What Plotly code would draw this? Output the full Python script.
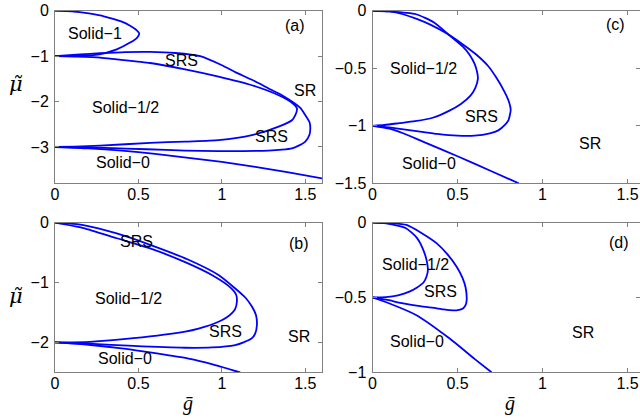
import plotly.graph_objects as go

# ---------------- data ----------------
# panel (a)
a_s1_g = [0, 0.10, 0.17, 0.27, 0.33, 0.40, 0.45, 0.49, 0.505, 0.49, 0.45, 0.37, 0.30, 0.23, 0.12, 0]
a_s1_mu = [0, -0.01, -0.04, -0.10, -0.16, -0.24, -0.33, -0.43, -0.50, -0.60, -0.70, -0.85, -0.93, -0.975, -0.995, -1]
a_out_g = [0, 0.15, 0.27, 0.42, 0.57, 0.72, 0.87, 1.0, 1.08, 1.18, 1.28, 1.36, 1.42, 1.47, 1.50, 1.525,
           1.53, 1.525, 1.50, 1.46, 1.42, 1.36, 1.28, 1.13, 0.98, 0.78, 0.55, 0.30, 0.12, 0]
a_out_mu = [-1, -0.96, -0.935, -0.91, -0.905, -0.93, -1.0, -1.2, -1.35, -1.52, -1.71, -1.86, -2.0, -2.14, -2.30, -2.45,
            -2.59, -2.73, -2.88, -2.97, -3.03, -3.06, -3.08, -3.09, -3.09, -3.08, -3.05, -3.02, -3.005, -3]
a_in_g = [0, 0.12, 0.27, 0.37, 0.57, 0.78, 0.98, 1.18, 1.34, 1.41, 1.45, 1.44, 1.42, 1.34, 1.18, 0.98, 0.78, 0.57, 0.27, 0.12, 0]
a_in_mu = [-1, -1.01, -1.03, -1.07, -1.15, -1.29, -1.45, -1.64, -1.86, -2.0, -2.15, -2.30, -2.41, -2.55, -2.74, -2.85,
           -2.88, -2.91, -2.97, -2.99, -3]
a_s0_g = [0, 0.2, 0.4, 0.6, 0.8, 1.0, 1.2, 1.4, 1.6]
a_s0_mu = [-3, -3.03, -3.08, -3.15, -3.24, -3.33, -3.44, -3.56, -3.69]

# panel (b)
b_out_g = [0, 0.08, 0.17, 0.37, 0.57, 0.80, 0.98, 1.08, 1.14, 1.18, 1.205, 1.21, 1.20, 1.18, 1.13, 1.08, 0.94, 0.78, 0.47, 0.2, 0]
b_out_mu = [0, -0.01, -0.04, -0.18, -0.37, -0.62, -0.875, -1.10, -1.25, -1.40, -1.55, -1.71, -1.85, -1.93, -2.0, -2.045,
            -2.085, -2.09, -2.06, -2.02, -2]
b_in_g = [0, 0.17, 0.37, 0.57, 0.78, 0.95, 1.05, 1.085, 1.09, 1.078, 1.03, 0.98, 0.86, 0.78, 0.47, 0.21, 0]
b_in_mu = [0, -0.09, -0.26, -0.43, -0.66, -0.89, -1.08, -1.2, -1.32, -1.45, -1.58, -1.655, -1.77, -1.82, -1.93, -1.99, -2]
b_s0_g = [0, 0.2, 0.4, 0.6, 0.8, 0.95, 1.11]
b_s0_mu = [-2, -2.04, -2.1, -2.18, -2.27, -2.37, -2.5]

# panel (c)
c_out_g = [0, 0.10, 0.18, 0.26, 0.34, 0.44, 0.53, 0.61, 0.68, 0.73, 0.775, 0.80, 0.813, 0.80, 0.78, 0.74, 0.69,
           0.60, 0.50, 0.38, 0.28, 0.15, 0.06, 0]
c_out_mu = [0, -0.005, -0.03, -0.07, -0.12, -0.20, -0.29, -0.38, -0.48, -0.585, -0.70, -0.78, -0.86, -0.95, -0.99,
            -1.04, -1.065, -1.085, -1.085, -1.07, -1.05, -1.025, -1.007, -1]
c_in_g = [0, 0.10, 0.256, 0.36, 0.45, 0.53, 0.57, 0.60, 0.615, 0.62, 0.605, 0.575, 0.52, 0.45, 0.354, 0.25, 0.158, 0.07, 0]
c_in_mu = [0, -0.005, -0.03, -0.10, -0.21, -0.31, -0.38, -0.46, -0.53, -0.59, -0.67, -0.74, -0.81, -0.87, -0.93,
           -0.96, -0.977, -0.993, -1]
c_s0_g = [0, 0.1, 0.18, 0.3, 0.5, 0.7, 0.86]
c_s0_mu = [-1, -1.025, -1.065, -1.14, -1.265, -1.395, -1.5]

# panel (d)
d_out_g = [0, 0.10, 0.20, 0.29, 0.378, 0.44, 0.495, 0.53, 0.547, 0.554, 0.548, 0.534, 0.51, 0.475, 0.42, 0.378,
           0.28, 0.18, 0.08, 0]
d_out_mu = [0, -0.004, -0.015, -0.07, -0.138, -0.21, -0.294, -0.37, -0.43, -0.517, -0.55, -0.572, -0.582, -0.586,
            -0.58, -0.572, -0.558, -0.539, -0.515, -0.5]
d_in_g = [0, 0.08, 0.197, 0.26, 0.295, 0.318, 0.326, 0.318, 0.30, 0.26, 0.217, 0.15, 0.079, 0]
d_in_mu = [0, -0.005, -0.037, -0.10, -0.171, -0.25, -0.315, -0.36, -0.40, -0.435, -0.461, -0.485, -0.497, -0.5]
d_s0_g = [0, 0.1, 0.256, 0.452, 0.6, 0.70]
d_s0_mu = [-0.5, -0.54, -0.617, -0.773, -0.91, -1.0]

x_ticks = [0, 0.5, 1, 1.5]
x_tick_text = ["0", "0.5", "1", "1.5"]
a_y_ticks = [0, -1, -2, -3]
b_y_ticks = [0, -1, -2]
c_y_ticks = [0, -0.5, -1, -1.5]
d_y_ticks = [0, -0.5, -1]

# region labels: (text, g, mu)
a_labels = [("Solid\u22121", 0.24, -0.49), ("SRS", 0.76, -1.09), ("SR", 1.50, -1.75),
            ("Solid\u22121/2", 0.42, -2.12), ("SRS", 1.30, -2.76), ("Solid\u22120", 0.41, -3.35), ("(a)", 1.44, -0.32)]
b_labels = [("SRS", 0.49, -0.32), ("Solid\u22121/2", 0.44, -1.26), ("SRS", 1.02, -1.82), ("SR", 1.46, -1.91),
            ("Solid\u22120", 0.42, -2.27), ("(b)", 1.46, -0.34)]
c_labels = [("Solid\u22121/2", 0.30, -0.50), ("SRS", 0.64, -0.92), ("SR", 1.28, -1.15),
            ("Solid\u22120", 0.33, -1.33), ("(c)", 1.43, -0.12)]
d_labels = [("Solid\u22121/2", 0.25, -0.28), ("SRS", 0.40, -0.46), ("SR", 1.24, -0.735),
            ("Solid\u22120", 0.26, -0.795), ("(d)", 1.45, -0.13)]

# ---------------- figure ----------------
W, H = 640, 418
BLUE = "#0000ff"
FONT = "Liberation Sans, Arial, sans-serif"
SERIF = "DejaVu Serif, serif"

fig = go.Figure()

panels = [
    ("x", "y", [(a_s1_g, a_s1_mu), (a_out_g, a_out_mu), (a_in_g, a_in_mu), (a_s0_g, a_s0_mu)], a_labels),
    ("x2", "y2", [(c_out_g, c_out_mu), (c_in_g, c_in_mu), (c_s0_g, c_s0_mu)], c_labels),
    ("x3", "y3", [(b_out_g, b_out_mu), (b_in_g, b_in_mu), (b_s0_g, b_s0_mu)], b_labels),
    ("x4", "y4", [(d_out_g, d_out_mu), (d_in_g, d_in_mu), (d_s0_g, d_s0_mu)], d_labels),
]

for xa, ya, curves, labels in panels:
    for g, mu in curves:
        fig.add_trace(go.Scatter(x=g, y=mu, xaxis=xa, yaxis=ya, mode="lines",
                                 line=dict(color=BLUE, width=1.8, shape="spline", smoothing=0.6),
                                 showlegend=False, hoverinfo="skip"))
    for t, gx, my in labels:
        fig.add_annotation(x=gx, y=my, xref=xa, yref=ya, text=t, showarrow=False,
                           font=dict(family=FONT, size=16, color="black"))

left_dom = [55 / W, 322 / W]
right_dom = [372.5 / W, 1.0]
top_dom = [1 - 183.3 / H, 1 - 10.8 / H]
bot_dom = [1 - 372.3 / H, 1 - 222.7 / H]


def xax(dom, rng, anchor):
    return dict(domain=dom, range=rng, anchor=anchor, tickvals=x_ticks, ticktext=x_tick_text,
                ticks="inside", ticklen=4, tickcolor="#808080", showline=True, linecolor="#808080",
                linewidth=1, mirror="ticks", showgrid=False, zeroline=False, automargin=False,
                ticklabeloverflow="allow", ticklabelstandoff=-4,
                tickfont=dict(family=FONT, size=16, color="black"))


def yax(dom, rng, anchor, tv):
    return dict(domain=dom, range=rng, anchor=anchor, tickvals=tv,
                ticks="inside", ticklen=4, tickcolor="#808080", showline=True, linecolor="#808080",
                linewidth=1, mirror="ticks", showgrid=False, zeroline=False, automargin=False,
                ticklabeloverflow="allow", ticklabelstandoff=2,
                tickfont=dict(family=FONT, size=16, color="black"))


x_right_max = (640 - 372.5) / 170.0

fig.update_layout(
    width=W, height=H, margin=dict(l=0, r=0, t=0, b=0),
    template="none", paper_bgcolor="white", plot_bgcolor="white", showlegend=False,
    xaxis=xax(left_dom, [0, 1.6], "y"),
    yaxis=yax(top_dom, [-3.8, 0], "x", a_y_ticks),
    xaxis2=xax(right_dom, [0, x_right_max], "y2"),
    yaxis2=yax(top_dom, [-1.5, 0], "x2", c_y_ticks),
    xaxis3=xax(left_dom, [0, 1.6], "y3"),
    yaxis3=yax(bot_dom, [-2.5, 0], "x3", b_y_ticks),
    xaxis4=xax(right_dom, [0, x_right_max], "y4"),
    yaxis4=yax(bot_dom, [-1, 0], "x4", d_y_ticks),
)

# axis titles: mu with tilde (left), g with bar (bottom)
for px, py in [(16, 84), (16, 296)]:
    fig.add_annotation(x=px / W, y=1 - py / H, xref="paper", yref="paper", text="<i>\u03bc\u0303</i>",
                       showarrow=False, font=dict(family=SERIF, size=21, color="black"),
                       xanchor="center", yanchor="middle")
for px, py in [(188, 403), (510, 403)]:
    fig.add_annotation(x=px / W, y=1 - py / H, xref="paper", yref="paper", text="<i>\u1e21</i>",
                       showarrow=False, font=dict(family="Liberation Serif, serif", size=20, color="black"),
                       xanchor="center", yanchor="middle")

fig.write_html("out.html", config={"displayModeBar": False},
               post_script="document.body.style.margin='0';document.body.style.overflow='hidden';")
